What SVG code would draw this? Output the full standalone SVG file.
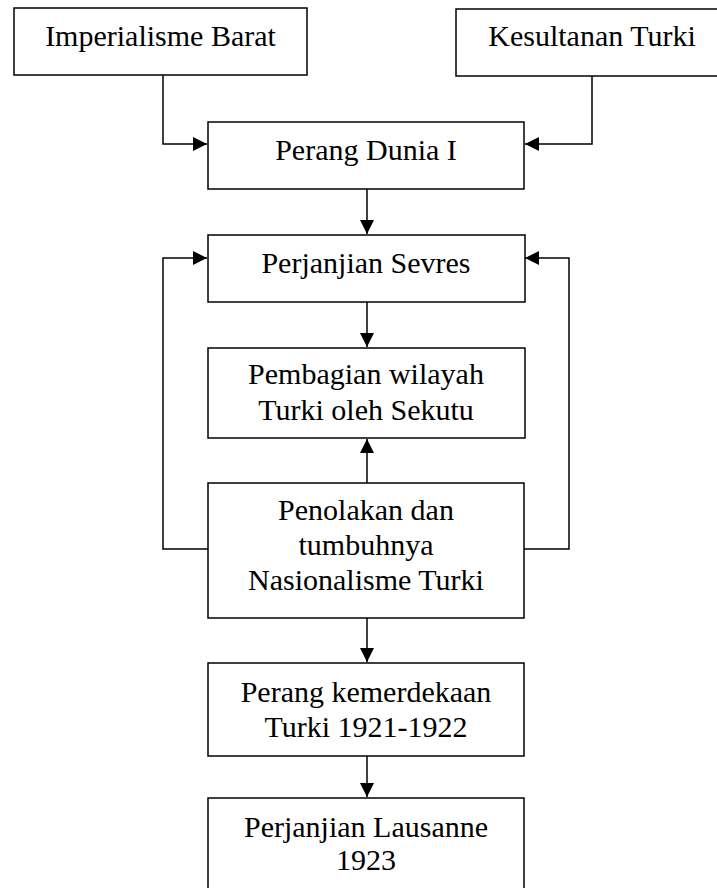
<svg xmlns="http://www.w3.org/2000/svg" width="717" height="888" viewBox="0 0 717 888">
<style>
.box{fill:#fff;stroke:#000;stroke-width:1.5}
.t{font-family:"Liberation Serif","Times New Roman",serif;font-size:30px;fill:#000;text-anchor:middle}
.c{fill:none;stroke:#000;stroke-width:1.5}
</style>
<defs>
<marker id="ah" markerUnits="userSpaceOnUse" markerWidth="15" markerHeight="14" refX="14" refY="7" orient="auto">
<path d="M0,0 L14,7 L0,14 Z" fill="#000"/>
</marker>
</defs>
<rect width="717" height="888" fill="#fff"/>
<g id="connectors">
<path class="c" d="M163,75 V144 H207" marker-end="url(#ah)"/>
<path class="c" d="M592,76 V144 H525" marker-end="url(#ah)"/>
<path class="c" d="M367,189 V234" marker-end="url(#ah)"/>
<path class="c" d="M367,302 V347" marker-end="url(#ah)"/>
<path class="c" d="M367,483 V439" marker-end="url(#ah)"/>
<path class="c" d="M208,549 H163 V258 H207" marker-end="url(#ah)"/>
<path class="c" d="M524,549 H569 V258 H525" marker-end="url(#ah)"/>
<path class="c" d="M367,618 V662" marker-end="url(#ah)"/>
<path class="c" d="M367,756 V797" marker-end="url(#ah)"/>
</g>
<g id="imperialisme">
<rect class="box" x="14" y="8" width="293" height="67"/>
<text class="t" x="160.5" y="46">Imperialisme Barat</text>
</g>
<g id="kesultanan">
<rect class="box" x="456" y="9" width="280" height="67"/>
<text class="t" x="592" y="46">Kesultanan Turki</text>
</g>
<g id="perang-dunia">
<rect class="box" x="208" y="122" width="316" height="67"/>
<text class="t" x="366" y="160">Perang Dunia I</text>
</g>
<g id="sevres">
<rect class="box" x="208" y="235" width="317" height="67"/>
<text class="t" x="366" y="273">Perjanjian Sevres</text>
</g>
<g id="pembagian">
<rect class="box" x="208" y="348" width="317" height="90"/>
<text class="t" x="366" y="384">Pembagian wilayah</text>
<text class="t" x="366" y="420">Turki oleh Sekutu</text>
</g>
<g id="penolakan">
<rect class="box" x="208" y="483" width="316" height="135"/>
<text class="t" x="366" y="520">Penolakan dan</text>
<text class="t" x="366" y="555">tumbuhnya</text>
<text class="t" x="366" y="590">Nasionalisme Turki</text>
</g>
<g id="kemerdekaan">
<rect class="box" x="208" y="663" width="316" height="93"/>
<text class="t" x="366" y="702">Perang kemerdekaan</text>
<text class="t" x="366" y="737">Turki 1921-1922</text>
</g>
<g id="lausanne">
<rect class="box" x="208" y="798" width="316" height="110"/>
<text class="t" x="366" y="837">Perjanjian Lausanne</text>
<text class="t" x="366" y="870">1923</text>
</g>
</svg>
